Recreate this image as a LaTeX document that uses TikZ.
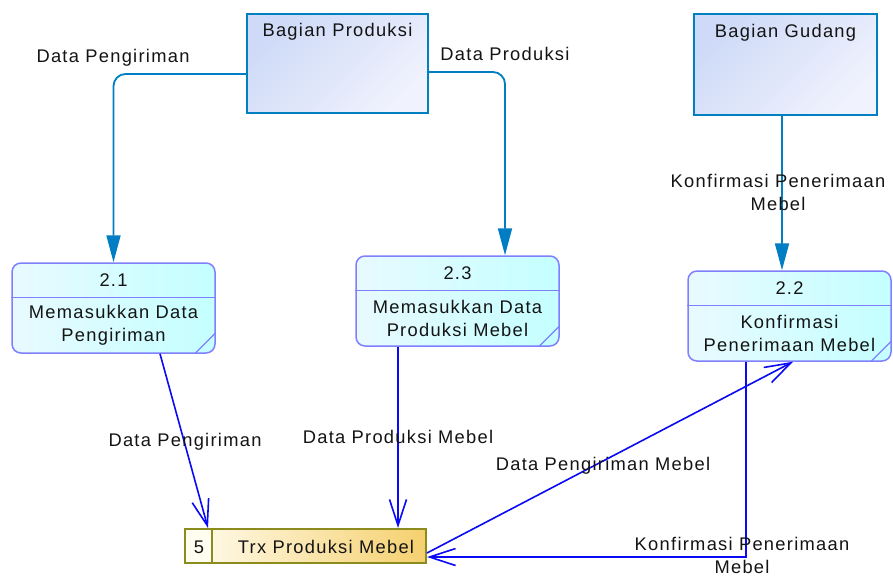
\documentclass[tikz,border=0pt]{standalone}
\usepackage{fontspec}
\setmainfont[LetterSpace=7]{Liberation Sans}
\usetikzlibrary{arrows.meta,calc}

\definecolor{flowteal}{RGB}{0,125,195}
\definecolor{flowblue}{RGB}{10,10,245}
\definecolor{entline}{RGB}{0,128,192}
\definecolor{entA}{RGB}{206,218,247}
\definecolor{entB}{RGB}{240,242,253}
\definecolor{procline}{RGB}{128,128,255}
\definecolor{procA}{RGB}{232,250,255}
\definecolor{procB}{RGB}{196,255,255}
\definecolor{storeline}{RGB}{140,140,30}
\definecolor{storeA}{RGB}{255,252,240}
\definecolor{storeB}{RGB}{245,208,110}
\definecolor{ink}{RGB}{20,20,20}

\tikzset{
  txt/.style={font=\fontsize{18.3}{23}\selectfont, text=ink, inner sep=0pt, align=center},
  entity/.style={draw=entline, line width=1.5pt, top color=entA, bottom color=entB,
    shading angle=45, minimum width=181pt, minimum height=99pt, inner sep=0pt},
  proc/.style={draw=procline, line width=1.5pt, rounded corners=9pt,
    left color=procA, right color=procB, minimum width=203pt, minimum height=90pt, inner sep=0pt},
  procrule/.style={draw=procline, line width=1.3pt},
  store/.style={draw=storeline, line width=2pt, left color=storeA, right color=storeB,
    minimum width=241pt, minimum height=34pt, inner sep=0pt,
    path picture={\fill[storeA] (path picture bounding box.north west) rectangle ++(28,34);}},
  ctrl/.style={draw=flowteal, line width=1.8pt, rounded corners=12pt,
    -{Triangle[length=27pt,width=14pt]}},
  flow/.style={draw=flowblue, line width=1.6pt,
    -{Straight Barb[length=26pt,width=17pt,line width=1.6pt]}}
}

\begin{document}
\begin{tikzpicture}[x=1pt,y=-1pt]
  \useasboundingbox[fill=white] (0,0) rectangle (893,576);

  % external entities
  \node[entity] (prod) at (337.5,63.5) {};
  \node[txt, anchor=north] (prodlbl) at ($(prod.north)+(0,10)$) {Bagian Produksi};
  \node[entity, minimum width=183pt, minimum height=101pt] (gud) at (785.5,64.5) {};
  \node[txt, anchor=north] (gudlbl) at ($(gud.north)+(0,11)$) {Bagian Gudang};

  % processes
  \node[proc] (p21) at (113.5,308) {};
  \node[proc] (p23) at (457.5,301) {};
  \node[proc] (p22) at (789.5,316) {};
  \foreach \p/\num/\body in {p21/2.1/{Memasukkan Data\\Pengiriman},
                             p23/2.3/{Memasukkan Data\\Produksi Mebel},
                             p22/2.2/{Konfirmasi\\Penerimaan Mebel}}{
    \draw[procrule] ($(\p.north west)+(0,35)$) -- ($(\p.north east)+(0,35)$);
    \draw[procrule] ($(\p.south east)+(-21,0)$) -- ($(\p.south east)+(0,-21)$);
    \node[txt] (\p num) at ($(\p.north)+(0,18)$) {\num};
    \node[txt] (\p body) at ($(\p.north)+(0,63)$) {\body};
  }

  % data store
  \node[store] (st) at (305.5,546) {};
  \draw[storeline, line width=1.5pt] ($(st.north west)+(28,0)$) -- ($(st.south west)+(28,0)$);
  \node[txt] (stnum) at (199,547) {5};
  \node[txt] (stname) at (326,547) {Trx Produksi Mebel};

  % control flows from the entities
  \draw[ctrl] ([yshift=-10.5pt]prod.west) -| (p21.north);
  \draw[ctrl] ([yshift=-8.5pt]prod.east) -| ([xshift=47.5pt]p23.north);
  \draw[ctrl] ([xshift=-3.5pt]gud.south) -- ([xshift=-7.5pt]p22.north);

  % data flows
  \draw[flow] ([xshift=46.5pt]p21.south) -- ([xshift=-97.5pt]st.north);
  \draw[flow] ([xshift=-59.5pt]p23.south) -- ([xshift=92.5pt]st.north);
  \draw[flow] ([yshift=-7pt]st.east) -- ([xshift=3.5pt]p22.south);
  \draw[flow] ([xshift=-43.5pt]p22.south) |- ([yshift=-11pt]st.east);

  % flow labels
  \node[txt] (l1) at (113,58) {Data Pengiriman};
  \node[txt] (l2) at (505,54) {Data Produksi};
  \node[txt] (l3) at (778,192.5) {Konfirmasi Penerimaan\\Mebel};
  \node[txt] (l4) at (185,442) {Data Pengiriman};
  \node[txt] (l5) at (398,437) {Data Produksi Mebel};
  \node[txt] (l6) at (603,466) {Data Pengiriman Mebel};
  \node[txt] (l7) at (742,555) {Konfirmasi Penerimaan\\Mebel};
\end{tikzpicture}
\end{document}
